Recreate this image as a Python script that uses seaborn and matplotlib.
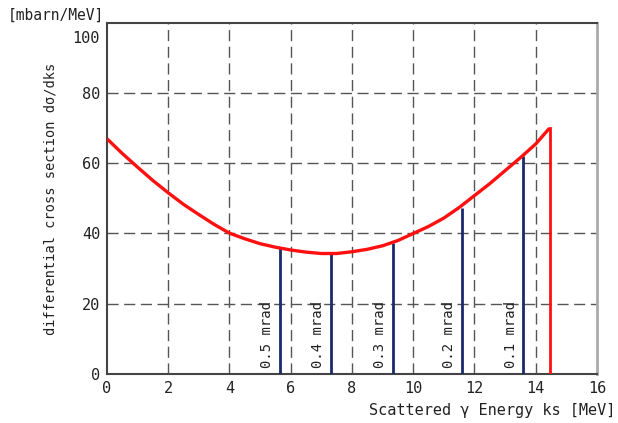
import matplotlib
matplotlib.use("Agg")
import matplotlib.pyplot as plt
import matplotlib.transforms as mtransforms
import seaborn as sns
import pandas as pd

# Curve data
energy = [0, 0.5, 1, 1.5, 2, 2.5, 3, 3.5, 4, 4.5, 5, 5.5, 6, 6.5, 7, 7.5,
          8, 8.5, 9, 9.5, 10, 10.5, 11, 11.5, 12, 12.5, 13, 13.5, 14, 14.45]
xsec = [67, 62.8, 58.9, 55.1, 51.6, 48.3, 45.4, 42.6, 40.1, 38.5, 37.1, 36.1,
        35.3, 34.7, 34.3, 34.3, 34.8, 35.5, 36.5, 38.0, 40.0, 42.0, 44.4, 47.4,
        50.8, 54.2, 57.9, 61.6, 65.5, 70]

# Collimator angle markers
marker_x = [5.65, 7.3, 9.35, 11.6, 13.6]
marker_top = [36.0, 34.3, 37.3, 47.2, 62.0]
marker_labels = ["0.5 mrad", "0.4 mrad", "0.3 mrad", "0.2 mrad", "0.1 mrad"]

edge_x = 14.45
edge_top = 70

xticks = [0, 2, 4, 6, 8, 10, 12, 14, 16]
yticks = [0, 20, 40, 60, 80, 100]

sns.set_theme(style="white")
plt.rcParams['font.family'] = ['DejaVu Sans Mono', 'DejaVu Sans']

fig = plt.figure(figsize=(6.18, 4.23), dpi=100)
ax = fig.add_axes([0.173, 0.116, 0.793, 0.830])

df = pd.DataFrame({"x": energy, "y": xsec})

for gx in xticks[1:-1]:
    ax.axvline(gx, color="#555555", lw=1.0, ls=(0, (8, 4)), zorder=1)
for gy in yticks[1:-1]:
    ax.axhline(gy, color="#555555", lw=1.0, ls=(0, (8, 4)), zorder=1)

sns.lineplot(data=df, x="x", y="y", ax=ax, color="#ff1010", lw=2.4, zorder=4,
             solid_capstyle="butt", solid_joinstyle="miter")
ax.plot([edge_x, edge_x], [0, edge_top], color="#ff1010", lw=2.0, zorder=4,
        solid_capstyle="projecting")
ax.vlines(marker_x, 0, marker_top, color="#1a2a6a", lw=2.0, zorder=3)

for mx, lab in zip(marker_x, marker_labels):
    ax.text(mx - 0.42, 1.8, lab, rotation=90, ha="center", va="bottom",
            fontsize=10, color="#222222", zorder=5)

ax.set_xlim(0, 16)
ax.set_ylim(0, 100)
ax.set_xticks(xticks)
ax.set_yticks(yticks)
ax.tick_params(axis="both", labelsize=11, colors="#222222", length=0, pad=5)
ax.set_xlabel("")
ax.set_ylabel("")

# shift the "100" label down a little, as in the reference
ylabels = ax.get_yticklabels()
shift = mtransforms.ScaledTranslation(0, -0.14, fig.dpi_scale_trans)
ylabels[-1].set_transform(ylabels[-1].get_transform() + shift)

for side in ["left", "bottom", "top"]:
    ax.spines[side].set_color("#444444")
    ax.spines[side].set_linewidth(1.5)
ax.spines["right"].set_color("#aaaaaa")
ax.spines["right"].set_linewidth(2.0)

fig.text(0.013, 0.965, "[mbarn/MeV]", fontsize=10.5, color="#222222",
         ha="left", va="center")
fig.text(0.082, 0.53, "differential cross section d\u03c3/dks", rotation=90,
         fontsize=9.8, color="#222222", ha="center", va="center")
fig.text(0.995, 0.03, "Scattered \u03b3 Energy ks [MeV]", fontsize=11,
         color="#222222", ha="right", va="center")

fig.savefig("out.png", dpi=100)
